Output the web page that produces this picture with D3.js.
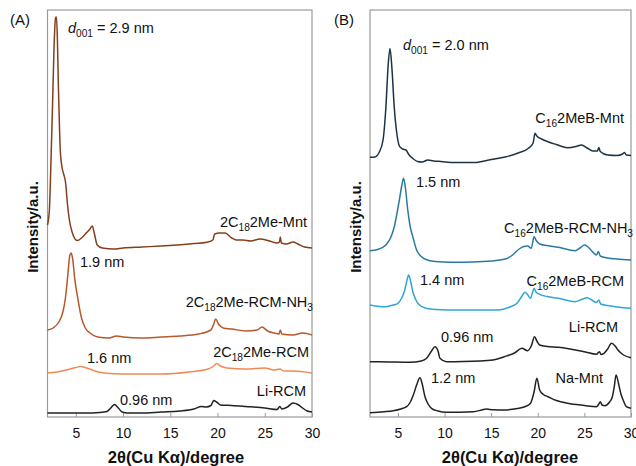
<!DOCTYPE html>
<html>
<head>
<meta charset="utf-8">
<script src="https://cdn.jsdelivr.net/npm/d3@7"></script>
<style>
  body { margin: 0; background: #fff; }
  text { font-family: "Liberation Sans", Arial, Helvetica, sans-serif; fill: #111; }
</style>
</head>
<body>
<svg id="chart" width="636" height="466"></svg>
<script>
// 2θ / intensity (a.u., stacked with offset)
const xTicks = [5, 10, 15, 20, 25, 30];

// panel (A)
const mntA = [[2,192],[2.2,207],[2.4,267],[2.52,307],[2.7,372],[2.85,399],[2.95,400],[3.05,377],[3.15,332],[3.22,307],[3.35,267],[3.55,249],[3.74,242],[3.92,234],[4.1,214],[4.27,200],[4.6,185],[5.15,176.5],[5.6,179],[6.1,184],[6.5,188],[6.74,191],[6.95,184],[7.26,172],[7.8,169],[9,168],[10,169],[12,170],[14,171],[17,173],[19,175],[19.5,177],[19.7,183],[20.2,184],[20.8,184],[21.5,179],[22,177],[22.7,177],[23.5,176],[24.5,178],[25.5,176],[26.3,174],[26.55,175],[26.65,180],[26.75,174],[27.3,173],[28,175],[28.5,173],[29.2,170],[30,169]];
const nh3A = [[2,87],[2.6,89],[3.2,95],[3.6,104],[3.9,119],[4.15,142],[4.35,161],[4.5,164],[4.65,159],[4.9,137],[5.2,119],[5.6,99],[6,89],[6.5,84],[7.3,80],[8.5,79],[9.3,81],[10,80],[12,79],[14,80],[16,81],[18,83],[19.3,87],[19.6,93],[19.8,98],[20.1,93],[20.6,89],[21.5,88],[23,86],[24.2,87],[24.7,90],[25.3,86],[26,84],[26.5,83],[26.65,87],[26.8,83],[28,82],[29,84],[30,82]];
const rcmA = [[2,44],[3,45],[4,47],[5,49.5],[5.5,50.5],[6,49.5],[7,46],[8,44],[10,43],[14,43],[17,45],[19,48],[19.6,51],[19.9,53.5],[20.3,51],[21,49],[23,48],[25,49],[26,47],[26.6,48],[27,46],[28,46],[30,44]];
const liA = [[2,4],[4,4],[6,4],[7.5,4.5],[8.3,5.5],[8.7,9],[9.1,12.5],[9.5,9],[9.9,5],[10.5,4],[12,4],[14,5],[16,6],[17.5,8],[18.3,10.5],[18.8,10],[19.3,11.5],[19.6,16.5],[19.9,15],[20.3,12],[21.5,11.5],[23,10.5],[25,9],[26.3,7.5],[26.6,10.5],[26.8,8],[27.4,10],[28,14],[28.5,12.5],[29,9],[29.5,6],[30,5]];

// panel (B)
const mntB = [[2,259.7],[2.5,260],[3,265],[3.4,277],[3.7,309],[3.95,352],[4.15,368.5],[4.35,349],[4.6,310],[4.9,282],[5.15,271],[5.5,268],[5.85,267],[6.2,262],[6.6,258.5],[7.1,255.5],[7.6,255],[8.2,257],[8.8,256],[9.6,255.5],[11,254.5],[13.2,254.5],[15,257.5],[16.5,260],[17.9,264],[19,268.7],[19.5,274],[19.7,283.7],[19.9,281],[20.4,278],[21.1,275.3],[22,272.5],[23.2,269.3],[24.1,270.5],[24.7,272],[25.3,269],[25.9,266],[26.4,266],[26.55,269.5],[26.7,265.5],[27.5,262],[28.5,261.5],[29.1,263],[29.3,264.5],[29.5,262],[30,261.5]];
const nh3B = [[2,166.3],[2.8,167.5],[3.7,172],[4.2,179],[4.6,190],[4.9,204],[5.15,217],[5.4,231],[5.6,238.7],[5.8,229],[6.05,207],[6.3,191],[6.6,180],[7,167],[7.5,160.5],[8,157.5],[9,155.5],[10.7,154.7],[13,155],[15,156],[16.4,157.7],[17.3,162],[18,168],[18.5,170.5],[18.9,171],[19.3,168.7],[19.6,180.3],[19.8,177],[20.2,173],[21,171.5],[22.2,169.7],[24,166.3],[24.6,169.5],[25,172],[25.4,170],[25.7,167],[26.3,162],[26.5,165.5],[26.7,161],[27.5,159],[28.5,158],[30,157]];
const rcmB = [[2,112],[3,110.5],[3.7,110.3],[4.5,112],[5,113.7],[5.4,119],[5.7,126],[5.95,136],[6.15,142],[6.35,136],[6.6,125],[6.9,117.5],[7.2,113],[8,108.7],[9,107.5],[12,107],[15.7,107],[17,110],[17.8,114],[18.3,121],[18.6,124.7],[18.9,122.5],[19.2,118.7],[19.45,125],[19.6,128.7],[19.8,125],[20.2,122.7],[21,120.5],[22.2,118.7],[24,115.3],[24.7,117.5],[25.3,119.3],[25.8,117],[26.3,114.5],[26.55,117],[26.75,113],[27.5,111.5],[28.5,110],[30,108.7]];
const liB = [[2,55.3],[4,55],[6.3,54.7],[7.5,56],[8.07,58.7],[8.6,66],[8.97,70.3],[9.3,66],[9.5,58.7],[10.2,55.3],[12,55.5],[15.2,57],[16.4,60.3],[17.5,64],[18.3,68.7],[18.9,66.3],[19.3,71],[19.65,80.3],[19.9,76],[20.2,72],[21,70.5],[22.2,69.7],[25,65.3],[26.3,62.7],[26.6,65.3],[26.8,62.5],[27.1,63.7],[27.5,68],[27.9,73.7],[28.3,71],[28.6,67],[29.2,62],[30,59.3]];
const naB = [[2,4.3],[3.5,5.3],[4.5,6.3],[5.3,8],[5.93,10.3],[6.3,14.5],[6.65,22],[7,32],[7.36,39.3],[7.6,33],[7.9,20.3],[8.2,13.5],[8.6,8.7],[9.3,6],[10.2,4.7],[13.1,5.3],[14,7],[14.5,8],[15.2,7.2],[16.4,7],[17.8,8.5],[18.6,10.3],[19.2,13.5],[19.6,25],[19.9,38.7],[20.2,27],[20.6,22.5],[21.1,20.3],[22,16.5],[23.2,13.7],[25,11.5],[26.3,10.3],[26.55,13],[26.7,15.3],[26.9,12],[27.2,11.3],[27.7,15],[28,20.3],[28.2,30],[28.4,42],[28.65,34],[28.9,23.7],[29.2,16],[29.5,10.3],[30,8.7]];

const namesA = ["2C_{18}2Me-Mnt", "2C_{18}2Me-RCM-NH_{3}", "2C_{18}2Me-RCM", "Li-RCM"];
const namesB = ["C_{16}2MeB-Mnt", "C_{16}2MeB-RCM-NH_{3}", "C_{16}2MeB-RCM", "Li-RCM", "Na-Mnt"];
const spacingsA = ["*d*_{001} = 2.9 nm", "1.9 nm", "1.6 nm", "0.96 nm"];
const spacingsB = ["*d*_{001} = 2.0 nm", "1.5 nm", "1.4 nm", "0.96 nm", "1.2 nm"];

const panels = [
  {
    tag: "(A)", tagX: 10, left: 47.5, right: 312, labelX: 38, titleX: 176,
    series: [mntA, nh3A, rcmA, liA],
    colors: ["#843f1c", "#b5592b", "#ee8a56", "#222222"],
    names: namesA, namePos: [[307, 227], [313, 307], [309, 357], [306, 396]],
    spacings: spacingsA, spacingPos: [[68, 33], [80, 267], [87, 363], [120, 405]]
  },
  {
    tag: "(B)", tagX: 334, left: 370, right: 631, labelX: 361, titleX: 510,
    series: [mntB, nh3B, rcmB, liB, naB],
    colors: ["#1d3344", "#2a7aa0", "#2fa6d6", "#222222", "#222222"],
    names: namesB, namePos: [[624, 123], [633, 233], [624, 286], [618, 332], [603, 383]],
    spacings: spacingsB, spacingPos: [[403, 50], [416, 187], [420, 285], [441, 342], [431, 383]]
  }
];

const plotTop = 10, plotBottom = 417;
const svg = d3.select("#chart");

// text with _{sub} and *italic* markup
function richText(x, y, str, anchor, size) {
  const t = svg.append("text")
    .attr("x", x).attr("y", y)
    .attr("text-anchor", anchor)
    .style("font-size", size + "px");
  let shifted = false;
  str.split(/(_\{[^}]*\}|\*[^*]*\*)/).filter(s => s.length).forEach(s => {
    const span = t.append("tspan");
    if (s.startsWith("_{")) {
      span.text(s.slice(2, -1)).attr("dy", shifted ? 0 : 3.5).style("font-size", (size * 0.7) + "px");
      shifted = true;
    } else {
      span.text(s.startsWith("*") ? s.slice(1, -1) : s);
      if (s.startsWith("*")) span.style("font-style", "italic");
      if (shifted) { span.attr("dy", -3.5); shifted = false; }
    }
  });
  return t;
}

panels.forEach(p => {
  const x = d3.scaleLinear().domain([2, 30]).range([p.left, p.right]);
  const y = d3.scaleLinear().domain([0, 407]).range([plotBottom, plotTop]);

  svg.append("rect")
    .attr("x", p.left).attr("y", plotTop)
    .attr("width", p.right - p.left).attr("height", plotBottom - plotTop)
    .attr("fill", "none").attr("stroke", "#9a9a9a").attr("stroke-width", 1.2);

  const ax = svg.append("g").attr("transform", `translate(0,${plotBottom})`)
    .call(d3.axisBottom(x).tickValues(xTicks).tickSizeInner(-4).tickSizeOuter(0).tickPadding(11));
  ax.select(".domain").remove();
  ax.selectAll(".tick line").attr("stroke", "#9a9a9a");
  ax.selectAll(".tick text").style("font-size", "14px").attr("fill", "#111")
    .style("font-family", '"Liberation Sans", Arial, sans-serif');

  const line = d3.line().x(d => x(d[0])).y(d => y(d[1])).curve(d3.curveMonotoneX);
  p.series.forEach((s, i) => {
    svg.append("path")
      .attr("d", line(s))
      .attr("fill", "none")
      .attr("stroke", p.colors[i])
      .attr("stroke-width", 1.5)
      .attr("stroke-linejoin", "round");
  });

  p.names.forEach((n, i) => richText(p.namePos[i][0], p.namePos[i][1], n, "end", 14.5));
  p.spacings.forEach((n, i) => richText(p.spacingPos[i][0], p.spacingPos[i][1], n, "start", 14.5));

  svg.append("text").attr("x", p.tagX).attr("y", 25).style("font-size", "15px").text(p.tag);

  svg.append("text")
    .attr("transform", `translate(${p.labelX},227) rotate(-90)`)
    .attr("text-anchor", "middle")
    .style("font-size", "15px").style("font-weight", "bold")
    .text("Intensity/a.u.");

  svg.append("text")
    .attr("x", p.titleX).attr("y", 463)
    .attr("text-anchor", "middle")
    .style("font-size", "16.5px").style("font-weight", "bold")
    .text("2θ(Cu Kα)/degree");
});
</script>
</body>
</html>
